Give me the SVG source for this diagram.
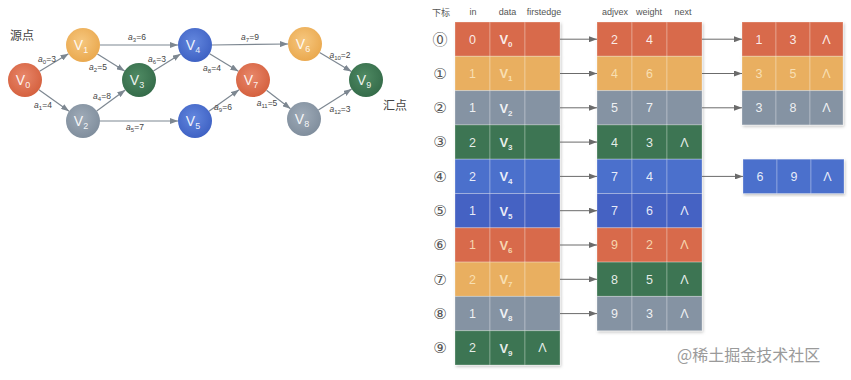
<svg xmlns="http://www.w3.org/2000/svg" width="851" height="380" viewBox="0 0 851 380">
<style>
text{font-family:"Liberation Sans","Noto Sans CJK SC",sans-serif}
.cjk{font-family:"Noto Sans CJK SC",sans-serif}
.nl{font-size:14px;fill:#fff;text-anchor:middle;fill-opacity:.92}
.sub{font-size:9px}
.el{font-size:8.5px;fill:#444;text-anchor:middle;font-style:italic}
.el .n{font-style:normal}
.el .sub{font-size:6px}
.edge{stroke:#7d8791;stroke-width:1.2;fill:none;marker-end:url(#ah)}
.ptr{stroke:#6b6b6b;stroke-width:1;fill:none;marker-end:url(#ah2)}
.hd{font-size:9px;fill:#555;text-anchor:middle}
.idx{font-size:15px;fill:#555;text-anchor:middle;font-family:"DejaVu Sans","Noto Sans CJK SC",sans-serif}
.c{stroke:#fff;stroke-opacity:.28;stroke-width:1}
.ct{font-size:12.5px;fill:#fff;fill-opacity:.88;text-anchor:middle}
.cv{font-size:13px;font-weight:bold;fill:#fff;fill-opacity:.88;text-anchor:middle}
.cv .s{font-size:8px}
.red{fill:#d86b4b}.org{fill:#e9af60}.gry{fill:#8593a3}.grn{fill:#3d7552}.blu{fill:#4b70cc}.bl2{fill:#4562c3}
.pt{fill:#fbe6bf}
</style>
<defs>
<marker id="ah" markerWidth="8" markerHeight="6" refX="8" refY="3" orient="auto" markerUnits="userSpaceOnUse"><path d="M0,0 L8,3 L0,6 z" fill="#7d8791"/></marker>
<marker id="ah2" markerWidth="8" markerHeight="6" refX="8" refY="3" orient="auto" markerUnits="userSpaceOnUse"><path d="M0,0 L8,3 L0,6 z" fill="#6b6b6b"/></marker>
<radialGradient id="gRed" cx=".45" cy=".4" r=".6"><stop offset="0" stop-color="#e8876a"/><stop offset="1" stop-color="#d5613f"/></radialGradient>
<radialGradient id="gOrg" cx=".45" cy=".4" r=".6"><stop offset="0" stop-color="#f6c77f"/><stop offset="1" stop-color="#eaa94f"/></radialGradient>
<radialGradient id="gGry" cx=".45" cy=".4" r=".6"><stop offset="0" stop-color="#9fabb8"/><stop offset="1" stop-color="#808e9d"/></radialGradient>
<radialGradient id="gGrn" cx=".45" cy=".4" r=".6"><stop offset="0" stop-color="#4f8a63"/><stop offset="1" stop-color="#356c4a"/></radialGradient>
<radialGradient id="gBlu" cx=".45" cy=".4" r=".6"><stop offset="0" stop-color="#6387de"/><stop offset="1" stop-color="#3f62c4"/></radialGradient>
<filter id="sh" x="-10%" y="-10%" width="120%" height="120%"><feDropShadow dx="1" dy="1.5" stdDeviation="1.5" flood-color="#000" flood-opacity=".25"/></filter>
</defs>
<rect width="851" height="380" fill="#fff"/>

<!-- graph connectors -->
<g id="graph-edges">
<line class="edge" x1="39.6" y1="71.2" x2="68.5" y2="53.8"/>
<line class="edge" x1="38.9" y1="89.8" x2="69.1" y2="111.2"/>
<line class="edge" x1="97.4" y1="54" x2="124.6" y2="71"/>
<line class="edge" x1="100" y1="45" x2="178" y2="45"/>
<line class="edge" x1="96.7" y1="111" x2="125.3" y2="90"/>
<line class="edge" x1="100" y1="121" x2="178" y2="121"/>
<line class="edge" x1="153.4" y1="71" x2="180.6" y2="54"/>
<line class="edge" x1="212" y1="45" x2="288" y2="44"/>
<line class="edge" x1="209.6" y1="53.8" x2="238.4" y2="71.2"/>
<line class="edge" x1="208.9" y1="111.2" x2="239.1" y2="89.8"/>
<line class="edge" x1="319.6" y1="52.6" x2="351.4" y2="71.4"/>
<line class="edge" x1="266.5" y1="90.3" x2="290.5" y2="108.7"/>
<line class="edge" x1="318.4" y1="109.9" x2="351.6" y2="89.1"/>
</g>
<g id="edge-labels">
<text class="el" x="47" y="62">a<tspan class="n sub" dy="2">0</tspan><tspan class="n" dy="-2">=3</tspan></text>
<text class="el" x="43" y="108">a<tspan class="n sub" dy="2">1</tspan><tspan class="n" dy="-2">=4</tspan></text>
<text class="el" x="98" y="70">a<tspan class="n sub" dy="2">2</tspan><tspan class="n" dy="-2">=5</tspan></text>
<text class="el" x="137" y="40">a<tspan class="n sub" dy="2">3</tspan><tspan class="n" dy="-2">=6</tspan></text>
<text class="el" x="102" y="99">a<tspan class="n sub" dy="2">4</tspan><tspan class="n" dy="-2">=8</tspan></text>
<text class="el" x="135" y="130">a<tspan class="n sub" dy="2">5</tspan><tspan class="n" dy="-2">=7</tspan></text>
<text class="el" x="157" y="62">a<tspan class="n sub" dy="2">6</tspan><tspan class="n" dy="-2">=3</tspan></text>
<text class="el" x="250" y="40">a<tspan class="n sub" dy="2">7</tspan><tspan class="n" dy="-2">=9</tspan></text>
<text class="el" x="212" y="71">a<tspan class="n sub" dy="2">8</tspan><tspan class="n" dy="-2">=4</tspan></text>
<text class="el" x="223" y="110">a<tspan class="n sub" dy="2">9</tspan><tspan class="n" dy="-2">=6</tspan></text>
<text class="el" x="340" y="58">a<tspan class="n sub" dy="2">10</tspan><tspan class="n" dy="-2">=2</tspan></text>
<text class="el" x="267" y="106">a<tspan class="n sub" dy="2">11</tspan><tspan class="n" dy="-2">=5</tspan></text>
<text class="el" x="340" y="112">a<tspan class="n sub" dy="2">12</tspan><tspan class="n" dy="-2">=3</tspan></text>
</g>

<!-- graph nodes -->
<g id="V0"><circle cx="25" cy="80" r="17" fill="url(#gRed)"/><text class="nl" x="23" y="85">V<tspan class="sub" dy="3">0</tspan></text></g>
<g id="V1"><circle cx="83" cy="45" r="17" fill="url(#gOrg)"/><text class="nl" x="81" y="50">V<tspan class="sub" dy="3">1</tspan></text></g>
<g id="V2"><circle cx="83" cy="121" r="17" fill="url(#gGry)"/><text class="nl" x="81" y="126">V<tspan class="sub" dy="3">2</tspan></text></g>
<g id="V3"><circle cx="139" cy="80" r="17" fill="url(#gGrn)"/><text class="nl" x="137" y="85">V<tspan class="sub" dy="3">3</tspan></text></g>
<g id="V4"><circle cx="195" cy="45" r="17" fill="url(#gBlu)"/><text class="nl" x="193" y="50">V<tspan class="sub" dy="3">4</tspan></text></g>
<g id="V5"><circle cx="195" cy="121" r="17" fill="url(#gBlu)"/><text class="nl" x="193" y="126">V<tspan class="sub" dy="3">5</tspan></text></g>
<g id="V6"><circle cx="305" cy="44" r="17" fill="url(#gOrg)"/><text class="nl" x="303" y="49">V<tspan class="sub" dy="3">6</tspan></text></g>
<g id="V7"><circle cx="253" cy="80" r="17" fill="url(#gRed)"/><text class="nl" x="251" y="85">V<tspan class="sub" dy="3">7</tspan></text></g>
<g id="V8"><circle cx="304" cy="119" r="17" fill="url(#gGry)"/><text class="nl" x="302" y="124">V<tspan class="sub" dy="3">8</tspan></text></g>
<g id="V9"><circle cx="366" cy="80" r="17" fill="url(#gGrn)"/><text class="nl" x="364" y="85">V<tspan class="sub" dy="3">9</tspan></text></g>
<text class="cjk" x="10" y="40" font-size="12" fill="#444">源点</text>
<text class="cjk" x="383" y="110" font-size="12" fill="#444">汇点</text>

<!-- headers -->
<g id="headers">
<text class="hd cjk" x="441" y="16" font-size="10">下标</text>
<text class="hd" x="473" y="15">in</text>
<text class="hd" x="507.5" y="15">data</text>
<text class="hd" x="544" y="15">firstedge</text>
<text class="hd" x="615" y="15">adjvex</text>
<text class="hd" x="649" y="15">weight</text>
<text class="hd" x="683" y="15">next</text>
</g>
<g id="indices">
<text class="idx" x="440" y="44.5">⓪</text>
<text class="idx" x="440" y="78.8">①</text>
<text class="idx" x="440" y="113.1">②</text>
<text class="idx" x="440" y="147.4">③</text>
<text class="idx" x="440" y="181.7">④</text>
<text class="idx" x="440" y="216">⑤</text>
<text class="idx" x="440" y="250.3">⑥</text>
<text class="idx" x="440" y="284.6">⑦</text>
<text class="idx" x="440" y="318.9">⑧</text>
<text class="idx" x="440" y="353.2">⑨</text>
</g>

<!-- vertex table -->
<g id="vertex-table" filter="url(#sh)">
<g class="red"><rect class="c" x="455" y="22" width="35" height="34.3"/><rect class="c" x="490" y="22" width="35" height="34.3"/><rect class="c" x="525" y="22" width="35" height="34.3"/></g>
<g class="org"><rect class="c" x="455" y="56.3" width="35" height="34.3"/><rect class="c" x="490" y="56.3" width="35" height="34.3"/><rect class="c" x="525" y="56.3" width="35" height="34.3"/></g>
<g class="gry"><rect class="c" x="455" y="90.6" width="35" height="34.3"/><rect class="c" x="490" y="90.6" width="35" height="34.3"/><rect class="c" x="525" y="90.6" width="35" height="34.3"/></g>
<g class="grn"><rect class="c" x="455" y="124.9" width="35" height="34.3"/><rect class="c" x="490" y="124.9" width="35" height="34.3"/><rect class="c" x="525" y="124.9" width="35" height="34.3"/></g>
<g class="blu"><rect class="c" x="455" y="159.2" width="35" height="34.3"/><rect class="c" x="490" y="159.2" width="35" height="34.3"/><rect class="c" x="525" y="159.2" width="35" height="34.3"/></g>
<g class="bl2"><rect class="c" x="455" y="193.5" width="35" height="34.3"/><rect class="c" x="490" y="193.5" width="35" height="34.3"/><rect class="c" x="525" y="193.5" width="35" height="34.3"/></g>
<g class="red"><rect class="c" x="455" y="227.8" width="35" height="34.3"/><rect class="c" x="490" y="227.8" width="35" height="34.3"/><rect class="c" x="525" y="227.8" width="35" height="34.3"/></g>
<g class="org"><rect class="c" x="455" y="262.1" width="35" height="34.3"/><rect class="c" x="490" y="262.1" width="35" height="34.3"/><rect class="c" x="525" y="262.1" width="35" height="34.3"/></g>
<g class="gry"><rect class="c" x="455" y="296.4" width="35" height="34.3"/><rect class="c" x="490" y="296.4" width="35" height="34.3"/><rect class="c" x="525" y="296.4" width="35" height="34.3"/></g>
<g class="grn"><rect class="c" x="455" y="330.7" width="35" height="34.3"/><rect class="c" x="490" y="330.7" width="35" height="34.3"/><rect class="c" x="525" y="330.7" width="35" height="34.3"/></g>
</g>
<g id="vertex-text">
<text class="ct" x="472.5" y="43.6">0</text><text class="cv" x="506" y="44">V<tspan class="s" dy="3">0</tspan></text>
<text class="ct pt" x="472.5" y="77.9">1</text><text class="cv pt" x="506" y="78.3">V<tspan class="s" dy="3">1</tspan></text>
<text class="ct" x="472.5" y="112.2">1</text><text class="cv" x="506" y="112.6">V<tspan class="s" dy="3">2</tspan></text>
<text class="ct" x="472.5" y="146.5">2</text><text class="cv" x="506" y="146.9">V<tspan class="s" dy="3">3</tspan></text>
<text class="ct" x="472.5" y="180.8">2</text><text class="cv" x="506" y="181.2">V<tspan class="s" dy="3">4</tspan></text>
<text class="ct" x="472.5" y="215.1">1</text><text class="cv" x="506" y="215.5">V<tspan class="s" dy="3">5</tspan></text>
<text class="ct pt" x="472.5" y="249.4">1</text><text class="cv pt" x="506" y="249.8">V<tspan class="s" dy="3">6</tspan></text>
<text class="ct pt" x="472.5" y="283.7">2</text><text class="cv pt" x="506" y="284.1">V<tspan class="s" dy="3">7</tspan></text>
<text class="ct" x="472.5" y="318">1</text><text class="cv" x="506" y="318.4">V<tspan class="s" dy="3">8</tspan></text>
<text class="ct" x="472.5" y="352.3">2</text><text class="cv" x="506" y="352.7">V<tspan class="s" dy="3">9</tspan></text>
<text class="ct" x="542.5" y="352.3">Λ</text>
</g>

<!-- edge table -->
<g id="edge-table" filter="url(#sh)">
<g class="red"><rect class="c" x="597" y="22" width="35" height="34.3"/><rect class="c" x="632" y="22" width="35" height="34.3"/><rect class="c" x="667" y="22" width="35" height="34.3"/></g>
<g class="org"><rect class="c" x="597" y="56.3" width="35" height="34.3"/><rect class="c" x="632" y="56.3" width="35" height="34.3"/><rect class="c" x="667" y="56.3" width="35" height="34.3"/></g>
<g class="gry"><rect class="c" x="597" y="90.6" width="35" height="34.3"/><rect class="c" x="632" y="90.6" width="35" height="34.3"/><rect class="c" x="667" y="90.6" width="35" height="34.3"/></g>
<g class="grn"><rect class="c" x="597" y="124.9" width="35" height="34.3"/><rect class="c" x="632" y="124.9" width="35" height="34.3"/><rect class="c" x="667" y="124.9" width="35" height="34.3"/></g>
<g class="blu"><rect class="c" x="597" y="159.2" width="35" height="34.3"/><rect class="c" x="632" y="159.2" width="35" height="34.3"/><rect class="c" x="667" y="159.2" width="35" height="34.3"/></g>
<g class="bl2"><rect class="c" x="597" y="193.5" width="35" height="34.3"/><rect class="c" x="632" y="193.5" width="35" height="34.3"/><rect class="c" x="667" y="193.5" width="35" height="34.3"/></g>
<g class="red"><rect class="c" x="597" y="227.8" width="35" height="34.3"/><rect class="c" x="632" y="227.8" width="35" height="34.3"/><rect class="c" x="667" y="227.8" width="35" height="34.3"/></g>
<g class="grn"><rect class="c" x="597" y="262.1" width="35" height="34.3"/><rect class="c" x="632" y="262.1" width="35" height="34.3"/><rect class="c" x="667" y="262.1" width="35" height="34.3"/></g>
<g class="gry"><rect class="c" x="597" y="296.4" width="35" height="34.3"/><rect class="c" x="632" y="296.4" width="35" height="34.3"/><rect class="c" x="667" y="296.4" width="35" height="34.3"/></g>
</g>
<g id="edge-text">
<text class="ct" x="614.5" y="43.6">2</text><text class="ct" x="649.5" y="43.6">4</text>
<text class="ct pt" x="614.5" y="77.9">4</text><text class="ct pt" x="649.5" y="77.9">6</text>
<text class="ct" x="614.5" y="112.2">5</text><text class="ct" x="649.5" y="112.2">7</text>
<text class="ct" x="614.5" y="146.5">4</text><text class="ct" x="649.5" y="146.5">3</text><text class="ct" x="684.5" y="146.5">Λ</text>
<text class="ct" x="614.5" y="180.8">7</text><text class="ct" x="649.5" y="180.8">4</text>
<text class="ct" x="614.5" y="215.1">7</text><text class="ct" x="649.5" y="215.1">6</text><text class="ct" x="684.5" y="215.1">Λ</text>
<text class="ct pt" x="614.5" y="249.4">9</text><text class="ct pt" x="649.5" y="249.4">2</text><text class="ct pt" x="684.5" y="249.4">Λ</text>
<text class="ct" x="614.5" y="283.7">8</text><text class="ct" x="649.5" y="283.7">5</text><text class="ct" x="684.5" y="283.7">Λ</text>
<text class="ct" x="614.5" y="318">9</text><text class="ct" x="649.5" y="318">3</text><text class="ct" x="684.5" y="318">Λ</text>
</g>

<!-- second-level edge nodes -->
<g id="edge-table-2" filter="url(#sh)">
<g class="red"><rect class="c" x="742" y="22" width="34" height="34.3"/><rect class="c" x="776" y="22" width="34" height="34.3"/><rect class="c" x="810" y="22" width="33" height="34.3"/></g>
<g class="org"><rect class="c" x="742" y="56.3" width="34" height="34.3"/><rect class="c" x="776" y="56.3" width="34" height="34.3"/><rect class="c" x="810" y="56.3" width="33" height="34.3"/></g>
<g class="gry"><rect class="c" x="742" y="90.6" width="34" height="34.3"/><rect class="c" x="776" y="90.6" width="34" height="34.3"/><rect class="c" x="810" y="90.6" width="33" height="34.3"/></g>
</g>
<g id="edge-text-2">
<text class="ct" x="759" y="43.6">1</text><text class="ct" x="793" y="43.6">3</text><text class="ct" x="826.5" y="43.6">Λ</text>
<text class="ct pt" x="759" y="77.9">3</text><text class="ct pt" x="793" y="77.9">5</text><text class="ct pt" x="826.5" y="77.9">Λ</text>
<text class="ct" x="759" y="112.2">3</text><text class="ct" x="793" y="112.2">8</text><text class="ct" x="826.5" y="112.2">Λ</text>
</g>
<g id="edge-node-69" filter="url(#sh)">
<g class="blu"><rect class="c" x="743" y="159.2" width="34" height="34.3"/><rect class="c" x="777" y="159.2" width="34" height="34.3"/><rect class="c" x="811" y="159.2" width="33" height="34.3"/></g>
</g>
<g id="edge-text-3">
<text class="ct" x="760" y="180.8">6</text><text class="ct" x="794" y="180.8">9</text><text class="ct" x="827.5" y="180.8">Λ</text>
</g>

<!-- pointer connectors -->
<g id="connectors">
<line class="ptr" x1="560" y1="39.2" x2="597" y2="39.2"/>
<line class="ptr" x1="560" y1="73.5" x2="597" y2="73.5"/>
<line class="ptr" x1="560" y1="107.8" x2="597" y2="107.8"/>
<line class="ptr" x1="560" y1="142.1" x2="597" y2="142.1"/>
<line class="ptr" x1="560" y1="176.4" x2="597" y2="176.4"/>
<line class="ptr" x1="560" y1="210.7" x2="597" y2="210.7"/>
<line class="ptr" x1="560" y1="245" x2="597" y2="245"/>
<line class="ptr" x1="560" y1="279.3" x2="597" y2="279.3"/>
<line class="ptr" x1="560" y1="313.6" x2="597" y2="313.6"/>
<line class="ptr" x1="702" y1="39.2" x2="742" y2="39.2"/>
<line class="ptr" x1="702" y1="73.5" x2="742" y2="73.5"/>
<line class="ptr" x1="702" y1="107.8" x2="742" y2="107.8"/>
<line class="ptr" x1="702" y1="176.4" x2="743" y2="176.4"/>
</g>

<text class="cjk" x="677" y="361" font-size="16" fill="#9a9a9a">@稀土掘金技术社区</text>
</svg>
